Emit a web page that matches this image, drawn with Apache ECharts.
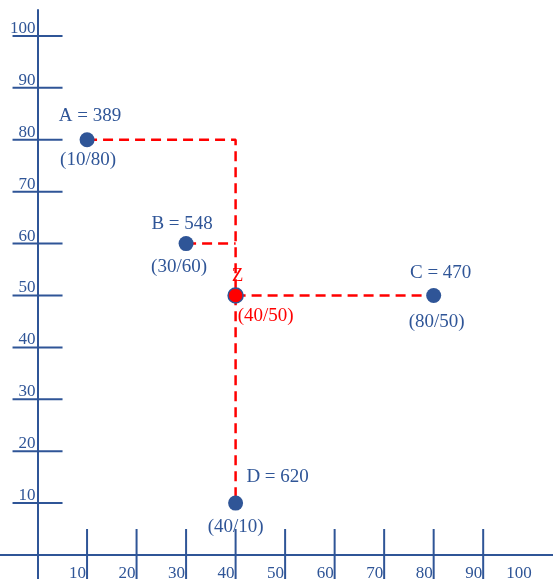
<!DOCTYPE html>
<html>
<head>
<meta charset="utf-8">
<script src="https://cdn.jsdelivr.net/npm/echarts@6/dist/echarts.min.js"></script>
<style>
  html, body { margin: 0; padding: 0; background: #fff; }
  #chart { width: 553px; height: 579px; }
</style>
</head>
<body>
<div id="chart"></div>
<script>
// data
const pointNames = ['A', 'B', 'C', 'D', 'Z'];
const pointX = [10, 30, 80, 40, 40];
const pointY = [80, 60, 50, 10, 50];
const pointValues = [389, 548, 470, 620, null];
const xTickValues = [10, 20, 30, 40, 50, 60, 70, 80, 90];
const xLabelValues = [10, 20, 30, 40, 50, 60, 70, 80, 90, 100];
const yTickValues = [10, 20, 30, 40, 50, 60, 70, 80, 90, 100];

document.addEventListener('DOMContentLoaded', function() {
    const blue = '#2F5597';
    const red = '#FF0000';
    const font = 'Liberation Serif';

    // label offsets (px) per point, top and bottom text
    const topOffset = { A: [3, -24], B: [-4, -20], C: [7, -22], D: [42, -26], Z: [2, -19] };
    const bottomOffset = { A: [1, 20], B: [-7, 23], C: [3, 27], D: [0, 24], Z: [30, 21] };

    const pt = {};
    pointNames.forEach((n, i) => { pt[n] = [pointX[i], pointY[i]]; });

    // dashed connectors
    const connA = [pt.A, [pt.Z[0], pt.A[1]], pt.D];
    const connB = [pt.B, [pt.Z[0], pt.B[1]]];
    const connZ = [pt.Z, pt.C];

    const dashed = { color: red, width: 2.5, type: [10, 6] };
    const lineSeries = [connA, connB, connZ].map(d => ({
        type: 'line',
        data: d,
        symbol: 'none',
        lineStyle: dashed,
        silent: true,
        z: 3
    }));

    const topData = pointNames.map((n, i) => ({
        value: [pointX[i], pointY[i]],
        itemStyle: n === 'Z'
            ? { color: red, borderColor: blue, borderWidth: 1.5, opacity: 1 }
            : { color: blue, opacity: 1 },
        label: {
            formatter: pointValues[i] != null ? n + ' = ' + pointValues[i] : n,
            offset: topOffset[n],
            color: n === 'Z' ? red : blue
        }
    }));

    const bottomData = pointNames.map((n, i) => ({
        value: [pointX[i], pointY[i]],
        label: {
            formatter: '(' + pointX[i] + '/' + pointY[i] + ')',
            offset: bottomOffset[n],
            color: n === 'Z' ? red : blue
        }
    }));

    const labelBase = {
        show: true,
        position: 'inside',
        align: 'center',
        verticalAlign: 'middle',
        fontFamily: font,
        fontSize: 19
    };

    const tickStyle = { stroke: blue, lineWidth: 2 };
    const tickText = { fill: blue, font: '17px "Liberation Serif"' };

    const chart = echarts.init(document.getElementById('chart'));
    chart.setOption({
        animation: false,
        grid: { left: 0, right: 0, top: 10, bottom: 0, outerBoundsMode: 'none' },
        xAxis: {
            type: 'value',
            min: -7.58,
            max: 104.1,
            axisLine: { onZero: true, lineStyle: { color: blue, width: 2 } },
            axisTick: { show: false },
            splitLine: { show: false },
            axisLabel: { show: false }
        },
        yAxis: {
            type: 'value',
            min: -4.62,
            max: 105.0,
            axisLine: { onZero: true, lineStyle: { color: blue, width: 2 } },
            axisTick: { show: false },
            splitLine: { show: false },
            axisLabel: { show: false }
        },
        series: [
            {
                // y axis crossing ticks + labels
                type: 'custom',
                data: yTickValues.map(v => [0, v]),
                silent: true,
                clip: false,
                z: 2,
                renderItem: function(params, api) {
                    const v = api.value(1);
                    const p = api.coord([0, v]);
                    return {
                        type: 'group',
                        children: [
                            {
                                type: 'line',
                                shape: { x1: p[0] - 25, y1: p[1], x2: p[0] + 25, y2: p[1] },
                                style: tickStyle
                            },
                            {
                                type: 'text',
                                x: p[0] - 2,
                                y: p[1] + 1,
                                style: Object.assign({ text: String(v), align: 'right', verticalAlign: 'bottom' }, tickText)
                            }
                        ]
                    };
                }
            },
            {
                // x axis crossing ticks
                type: 'custom',
                data: xTickValues.map(v => [v, 0]),
                silent: true,
                clip: false,
                z: 2,
                renderItem: function(params, api) {
                    const p = api.coord([api.value(0), 0]);
                    return {
                        type: 'line',
                        shape: { x1: p[0], y1: p[1] - 26, x2: p[0], y2: p[1] + 25 },
                        style: tickStyle
                    };
                }
            },
            {
                // x axis labels
                type: 'custom',
                data: xLabelValues.map(v => [v, 0]),
                silent: true,
                clip: false,
                z: 2,
                renderItem: function(params, api) {
                    const v = api.value(0);
                    const p = api.coord([v, 0]);
                    return {
                        type: 'text',
                        x: p[0] - 1,
                        y: p[1] + 10,
                        style: Object.assign({ text: String(v), align: 'right', verticalAlign: 'top' }, tickText)
                    };
                }
            },
            ...lineSeries,
            {
                type: 'scatter',
                data: topData,
                symbolSize: 15,
                label: labelBase,
                z: 5
            },
            {
                type: 'scatter',
                data: bottomData,
                symbolSize: 15,
                itemStyle: { color: 'rgba(0,0,0,0)', opacity: 1 },
                label: labelBase,
                silent: true,
                z: 6
            }
        ]
    });
});
</script>
</body>
</html>
